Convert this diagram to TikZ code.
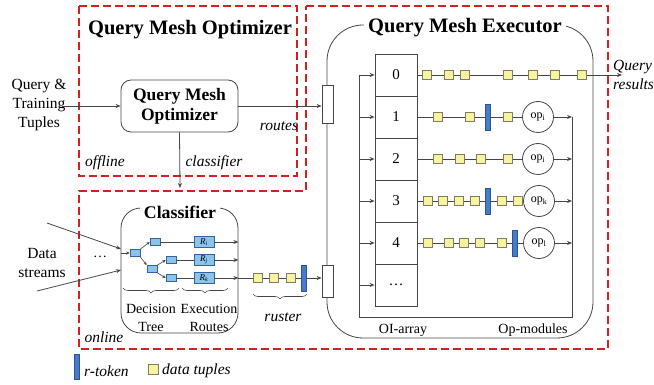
\documentclass[tikz,border=0pt]{standalone}
\usepackage{fontspec}
\setmainfont{Liberation Serif}
\usetikzlibrary{arrows.meta,decorations.pathreplacing,calc}
\definecolor{dashred}{RGB}{212,32,32}
\definecolor{tupfill}{RGB}{247,243,160}
\definecolor{tupdraw}{RGB}{125,125,95}
\definecolor{tokfill}{RGB}{70,125,200}
\definecolor{tokdraw}{RGB}{45,85,150}
\definecolor{leaffill}{RGB}{140,195,235}
\definecolor{leafdraw}{RGB}{50,100,160}
\definecolor{lncol}{RGB}{70,70,70}
\newcommand{\fsz}[2]{\fontsize{#1}{#2}\selectfont}
\begin{document}
\begin{tikzpicture}[x=1pt,y=-1pt,
  every node/.style={inner sep=0pt},
  ln/.style={draw=lncol, line width=0.8pt},
  arr/.style={ln, -{Stealth[length=5pt,width=4pt]}},
  arrs/.style={ln, line width=0.6pt, -{Stealth[length=3.5pt,width=3pt]}},
  region/.style={draw=dashred, line width=2pt, dash pattern=on 8pt off 4pt},
  tup/.style={draw=tupdraw, fill=tupfill, minimum size=9pt, line width=0.5pt},
  tok/.style={draw=tokdraw, fill=tokfill, minimum width=5pt, minimum height=26pt, line width=0.4pt},
  cell/.style={draw=lncol, minimum size=42pt, line width=0.8pt, font=\fsz{15}{18}},
  opc/.style={circle, draw=lncol, minimum size=31pt, line width=0.8pt, font=\fsz{12}{14}},
  leaf/.style={draw=leafdraw, fill=leaffill, minimum width=10pt, minimum height=7pt, line width=0.5pt},
  rbox/.style={draw=leafdraw, fill=leaffill, minimum width=20pt, minimum height=11pt, line width=0.5pt, font=\fsz{9}{10}},
  bigbox/.style={draw=lncol, line width=0.8pt},
  title/.style={fill=white, inner xsep=4pt, inner ysep=2pt, font=\fsz{20.5}{24}\bfseries},
  lab/.style={font=\fsz{15.5}{19}, align=center},
  ilab/.style={font=\fsz{15.5}{19}\itshape, align=left},
  slab/.style={font=\fsz{14}{18}, align=center},
  inbox/.style={draw=lncol, fill=white, minimum width=11pt, line width=0.8pt},
  brc/.style={ln, line width=0.6pt, decorate, decoration={brace, mirror, amplitude=5pt}}
]
\useasboundingbox (0,0) rectangle (654,385);

% dashed regions
\draw[region] (79,6) rectangle (297,176);
\draw[region] (306,6) -- (608,6) -- (608,349) -- (79,349) -- (79,191) -- (306,191) -- cycle;

% optimizer
\node[title] (optt) at (190,30) {Query Mesh Optimizer};
\node[bigbox, rounded corners=10pt, minimum width=117pt, minimum height=52pt, align=center, font=\fsz{17.5}{20}\bfseries] (opt) at (179.5,106) {Query Mesh\\Optimizer};
\node[lab] (qtt) at (39,105) {Query \&\\Training\\Tuples};
\coordinate (qtin) at (62,106);
\draw[arr] (qtin) -- (opt.west);
\node[ilab] (offl) at (105,163) {offline};
\node[ilab] (clsl) at (214,163) {classifier};
\node[ilab] (rtl) at (279,126) {routes};
\coordinate (clfin) at (180,188);
\draw[arr] (opt.south) -- (clfin);

% executor
\node[bigbox, rounded corners=36pt, minimum width=266pt, minimum height=313pt] (exec) at (460,181.5) {};
\node[title] (exect) at (465,28) {Query Mesh Executor};
\node[inbox, minimum height=38pt] (inA) at (327.5,104) {};
\node[inbox, minimum height=32pt] (inB) at (327.5,281) {};
\draw[arr] (opt.east) -- (opt.east -| inA.west);

\node[cell] (c0) at (396,75) {0};
\node[cell] (c1) at (396,117) {1};
\node[cell] (c2) at (396,159) {2};
\node[cell] (c3) at (396,201) {3};
\node[cell] (c4) at (396,243) {4};
\node[cell] (c5) at (396,285) {\dots};

\coordinate (f0) at (359,75);
\coordinate (fbl) at (359,317);
\coordinate (fbr) at (572,317);
\coordinate (e1) at (572,117);
\coordinate (e2) at (572,159);
\coordinate (e3) at (572,201);
\coordinate (e4) at (572,243);
\draw[ln] (f0) -- (fbl) -- (fbr) -- (e1);
\draw[arr] (f0) -- (c0.west);
\foreach \k in {1,...,5} { \draw[arr] (c\k -| f0) -- (c\k.west); }

% row 0
\node[tup] (r0a) at (427,75) {};
\node[tup] (r0b) at (449,75) {};
\node[tup] (r0c) at (465,75) {};
\node[tup] (r0d) at (508,75) {};
\node[tup] (r0e) at (533,75) {};
\node[tup] (r0f) at (555,75) {};
\node[tup] (r0g) at (582,75) {};
\coordinate (qres) at (622,75);
\draw[ln] (c0.east) -- (r0a) -- (r0b) -- (r0c) -- (r0d) -- (r0e) -- (r0f) -- (r0g);
\draw[arr] (r0g) -- (qres);
\node[ilab, anchor=west] (qrt) at (613,75) {Query\\results};

% row 1
\node[tup] (r1a) at (438,117) {};
\node[tup] (r1b) at (470,117) {};
\node[tok] (r1t) at (488,117) {};
\node[tup] (r1c) at (508,117) {};
\node[opc] (o1) at (538,117) {op\textsubscript{i}};
\draw[ln] (c1.east) -- (r1a) -- (r1b) -- (r1t) -- (r1c) -- (o1);
\draw[arr] (o1) -- (e1);

% row 2
\node[tup] (r2a) at (438,159) {};
\node[tup] (r2b) at (460,159) {};
\node[tup] (r2c) at (481,159) {};
\node[tup] (r2d) at (508,159) {};
\node[opc] (o2) at (538,159) {op\textsubscript{i}};
\draw[ln] (c2.east) -- (r2a) -- (r2b) -- (r2c) -- (r2d) -- (o2);
\draw[arr] (o2) -- (e2);

% row 3
\node[tup] (r3a) at (428,201) {};
\node[tup] (r3b) at (443,201) {};
\node[tup] (r3c) at (459,201) {};
\node[tup] (r3d) at (475,201) {};
\node[tok] (r3t) at (488,201) {};
\node[tup] (r3e) at (502,201) {};
\node[tup] (r3f) at (518,201) {};
\node[opc] (o3) at (539,201) {op\textsubscript{k}};
\draw[ln] (c3.east) -- (r3a) -- (r3b) -- (r3c) -- (r3d) -- (r3t) -- (r3e) -- (r3f) -- (o3);
\draw[arr] (o3) -- (e3);

% row 4
\node[tup] (r4a) at (428,243) {};
\node[tup] (r4b) at (449,243) {};
\node[tup] (r4c) at (464,243) {};
\node[tup] (r4d) at (480,243) {};
\node[tup] (r4e) at (502,243) {};
\node[tok] (r4t) at (515,243) {};
\node[opc] (o4) at (539,243) {op\textsubscript{l}};
\draw[ln] (c4.east) -- (r4a) -- (r4b) -- (r4c) -- (r4d) -- (r4e) -- (r4t) -- (o4);
\draw[arr] (o4) -- (e4);

\node[slab] (oia) at (403,330) {OI-array};
\node[slab] (opm) at (533,330) {Op-modules};

% classifier
\node[bigbox, rounded corners=20pt, minimum width=117pt, minimum height=125pt] (clf) at (179.5,270.5) {};
\node[fill=white, inner xsep=4pt, inner ysep=1pt, font=\fsz{17.8}{20}\bfseries] (clft) at (180,212) {Classifier};
\node[lab] (dst) at (42,263) {Data\\streams};
\node[font=\fsz{14}{16}] (dots) at (100,257) {\dots};
\coordinate (ds1) at (47,223);
\coordinate (ds2) at (37,291);
\coordinate (ci1) at (121,249);
\coordinate (ci2) at (121,270);
\coordinate (ci0) at (121,253);
\draw[arr] (ds1) -- (ci1);
\draw[arr] (ds2) -- (ci2);

\node[leaf] (root) at (135,253) {};
\node[leaf] (lA) at (155,242) {};
\node[leaf] (mid) at (152,269) {};
\node[leaf] (lB) at (171,260) {};
\node[leaf] (lC) at (171,278) {};
\node[rbox] (Ri) at (204,242) {\textit{R}\textsubscript{\textit{i}}};
\node[rbox] (Rj) at (204,260) {\textit{R}\textsubscript{\textit{j}}};
\node[rbox] (Rk) at (204,278) {\textit{R}\textsubscript{\textit{k}}};
\draw[arrs] (ci0) -- (root);
\draw[arrs] (root.north east) -- (lA.west);
\draw[arrs] (root.south east) -- (mid.north west);
\draw[arrs] (mid.north east) -- (lB.west);
\draw[arrs] (mid.south east) -- (lC.west);
\draw[ln] (lA) -- (Ri);
\draw[ln] (lB) -- (Rj);
\draw[ln] (lC) -- (Rk);
\draw[arr] (Ri) -- (Ri -| clf.east);
\draw[arr] (Rj) -- (Rj -| clf.east);
\draw[arr] (Rk) -- (Rk -| clf.east);

\draw[brc] (123,288) -- (179,288);
\draw[brc] (182,288) -- (228,288);
\node[slab] (dtl) at (151,318) {Decision\\Tree};
\node[slab] (erl) at (209,318) {Execution\\Routes};

% ruster
\node[tup] (s1) at (258,278) {};
\node[tup] (s2) at (274,278) {};
\node[tup] (s3) at (291,278) {};
\node[tok] (rtk) at (304,278) {};
\draw[ln] (Rk -| clf.east) -- (s1) -- (s2) -- (s3) -- (rtk);
\draw[arr] (rtk) -- (rtk -| inB.west);
\draw[brc] (253,294) -- (307,294);
\node[ilab] (rus) at (283,317) {ruster};
\node[ilab] (onl) at (104,337) {online};

% legend
\node[tok, minimum height=25pt] (lgtok) at (77,367) {};
\node[ilab, anchor=west] (lgtokt) at (84,371) {r-token};
\node[tup, minimum size=10pt] (lgtup) at (153,369) {};
\node[ilab, anchor=west] (lgtupt) at (162,371) {data tuples};
\end{tikzpicture}
\end{document}
